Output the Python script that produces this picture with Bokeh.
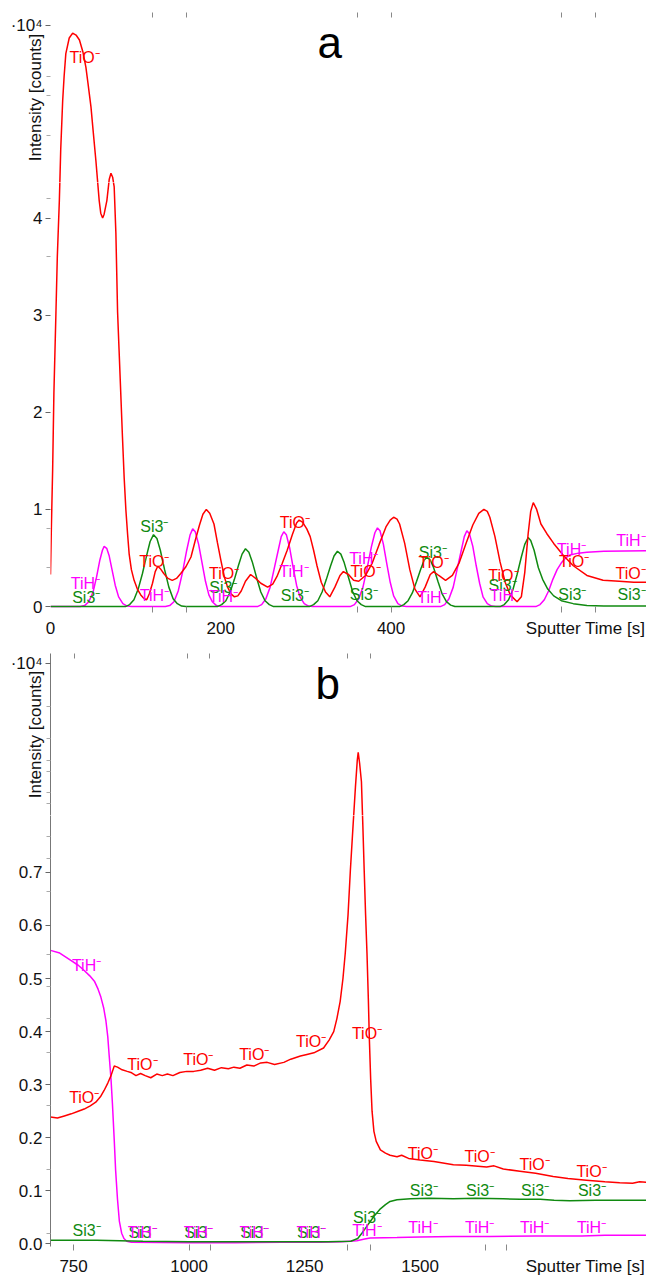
import math
from bokeh.plotting import figure
from bokeh.models import Label, FixedTicker, PrintfTickFormatter, ColumnDataSource, Range1d
from bokeh.layouts import column
from bokeh.core.properties import value
from bokeh.embed import file_html
from bokeh.resources import INLINE

FONT = "Liberation Sans"
RED, GREEN, MAGENTA = "#ff0000", "#108a10", "#ff00ff"
TIO, SI3, TIH = "TiO\u207b", "Si3\u207b", "TiH\u207b"
EXP = "\u00b710\u2074"
XLAB = "Sputter Time [s]"
YLAB = "Intensity [counts]"

# ---------------- panel a data: (sputter time [s], intensity [1e4 counts]) ----------------
a_tio = [(0, 0.33), (1, 0.8), (2.5, 1.4), (4, 2.2), (6.4, 3.03), (8, 3.6), (10.4, 4.18), (12, 4.7),
         (14.3, 5.2), (16, 5.45), (18, 5.68), (22, 5.84), (26, 5.89), (30, 5.87), (34, 5.82), (38, 5.7),
         (41.6, 5.54), (44, 5.38), (47.5, 5.14), (50, 4.9), (53.3, 4.59), (57.2, 4.18), (59, 4.05),
         (61.2, 4.0), (63, 4.04), (66.2, 4.18), (69, 4.4), (71, 4.46), (73, 4.42), (74.8, 4.32),
         (76.8, 3.84), (78.8, 3.03), (80.5, 2.65), (82.5, 2.2), (84.5, 1.75), (86.5, 1.33), (88.5, 1.0),
         (90.5, 0.75), (92.4, 0.54), (95, 0.38), (98.2, 0.27), (102, 0.18), (106, 0.12), (110, 0.08),
         (113, 0.07), (116, 0.13), (119.8, 0.24), (123, 0.36), (126, 0.415), (129, 0.39), (133, 0.34),
         (138, 0.29), (143, 0.27), (148, 0.29), (153, 0.34), (159, 0.41), (165, 0.51), (170, 0.68),
         (175, 0.84), (179, 0.95), (183, 1.0), (187, 0.96), (192, 0.85), (196, 0.66), (200, 0.48),
         (204, 0.31), (208, 0.2), (212, 0.13), (216, 0.1), (220, 0.11), (224, 0.16), (229, 0.26),
         (235, 0.33), (241, 0.29), (247, 0.24), (255, 0.2), (261, 0.23), (266, 0.31), (272, 0.44),
         (278, 0.58), (284, 0.74), (289, 0.86), (292, 0.89), (296, 0.87), (301, 0.8), (305, 0.72),
         (309, 0.58), (313, 0.42), (318, 0.25), (323, 0.15), (328, 0.1), (334, 0.2), (340, 0.32),
         (344, 0.36), (350, 0.33), (356, 0.27), (362, 0.26), (370, 0.32), (378, 0.45), (386, 0.64),
         (394, 0.82), (399, 0.89), (403, 0.92), (407, 0.9), (410, 0.85), (416, 0.65), (422, 0.38),
         (428, 0.18), (434, 0.1), (440, 0.2), (446, 0.33), (450, 0.36), (456, 0.32), (464, 0.27),
         (472, 0.32), (480, 0.45), (488, 0.65), (496, 0.84), (503, 0.96), (509, 1.0), (513, 0.98),
         (516, 0.92), (522, 0.72), (528, 0.46), (534, 0.25), (540, 0.12), (548, 0.05), (553, 0.1),
         (557, 0.35), (561, 0.75), (564, 0.98), (567, 1.07), (571, 1.0), (576, 0.85), (583, 0.75),
         (591, 0.65), (602, 0.53), (614, 0.42), (630, 0.32), (649, 0.27), (668, 0.26), (685, 0.25),
         (700, 0.25)]

a_tih = [(0, 0), (35, 0), (40, 0.01), (45, 0.05), (50, 0.15), (54, 0.3), (58, 0.48), (61, 0.58),
         (63, 0.62), (66, 0.6), (69, 0.52), (72, 0.39), (76, 0.22), (80, 0.1), (85, 0.03), (90, 0.005),
         (95, 0), (135, 0), (140, 0.01), (145, 0.05), (150, 0.16), (155, 0.35), (160, 0.58), (164, 0.74),
         (167, 0.8), (170, 0.77), (174, 0.64), (178, 0.45), (182, 0.26), (186, 0.12), (190, 0.05),
         (195, 0.01), (200, 0), (243, 0), (248, 0.02), (253, 0.08), (258, 0.2), (263, 0.4), (268, 0.6),
         (271, 0.72), (274, 0.77), (277, 0.74), (281, 0.6), (285, 0.4), (289, 0.22), (293, 0.1),
         (298, 0.03), (303, 0.005), (308, 0), (352, 0), (357, 0.02), (362, 0.08), (367, 0.2), (372, 0.4),
         (377, 0.62), (381, 0.76), (384, 0.81), (387, 0.78), (391, 0.64), (395, 0.44), (399, 0.25),
         (403, 0.11), (408, 0.03), (413, 0.005), (418, 0), (458, 0), (463, 0.02), (468, 0.08), (473, 0.2),
         (478, 0.4), (483, 0.6), (486, 0.72), (489, 0.78), (492, 0.75), (496, 0.62), (500, 0.42),
         (504, 0.24), (508, 0.1), (513, 0.03), (518, 0.005), (523, 0), (570, 0), (575, 0.02), (580, 0.07),
         (585, 0.16), (590, 0.28), (595, 0.38), (600, 0.45), (605, 0.5), (610, 0.53), (620, 0.55),
         (630, 0.56), (650, 0.57), (700, 0.575)]

a_si3 = [(0, 0), (88, 0), (93, 0.02), (98, 0.07), (103, 0.18), (108, 0.34), (113, 0.53), (117, 0.67),
         (121, 0.74), (125, 0.7), (129, 0.58), (134, 0.38), (139, 0.2), (144, 0.08), (149, 0.03),
         (154, 0.005), (159, 0), (196, 0), (201, 0.02), (206, 0.06), (211, 0.15), (216, 0.28), (221, 0.43),
         (225, 0.54), (229, 0.595), (233, 0.56), (237, 0.46), (242, 0.3), (247, 0.15), (252, 0.06),
         (257, 0.02), (262, 0), (304, 0), (309, 0.02), (314, 0.06), (319, 0.15), (324, 0.28), (329, 0.42),
         (333, 0.52), (337, 0.57), (341, 0.54), (345, 0.45), (350, 0.3), (355, 0.15), (360, 0.06),
         (365, 0.02), (370, 0), (410, 0), (415, 0.02), (420, 0.06), (425, 0.14), (430, 0.26), (435, 0.39),
         (439, 0.48), (442, 0.51), (446, 0.48), (450, 0.4), (455, 0.26), (460, 0.13), (465, 0.05),
         (470, 0.015), (475, 0), (528, 0), (533, 0.02), (538, 0.07), (543, 0.17), (548, 0.33), (553, 0.51),
         (557, 0.64), (561, 0.71), (564, 0.68), (568, 0.58), (573, 0.4), (578, 0.28), (584, 0.18),
         (591, 0.11), (600, 0.06), (614, 0.03), (630, 0.01), (650, 0.005), (700, 0.005)]

# curve labels, panel a: (time, intensity, text, colour)
a_labels = [(40, 5.64, TIO, RED), (41, 0.24, TIH, MAGENTA), (42, 0.095, SI3, GREEN),
            (122, 0.82, SI3, GREEN), (122, 0.46, TIO, RED), (122, 0.11, TIH, MAGENTA),
            (204, 0.34, TIO, RED), (203, 0.2, SI3, GREEN), (203, 0.1, TIH, MAGENTA),
            (287, 0.87, TIO, RED), (286, 0.36, TIH, MAGENTA), (287, 0.11, SI3, GREEN),
            (368, 0.49, TIH, MAGENTA), (370, 0.36, TIO, RED), (368, 0.12, SI3, GREEN),
            (449, 0.56, SI3, GREEN), (450, 0.45, TIO, RED), (448, 0.095, TIH, MAGENTA),
            (532, 0.32, TIO, RED), (531, 0.22, SI3, GREEN), (533, 0.11, TIH, MAGENTA),
            (612, 0.585, TIH, MAGENTA), (615, 0.46, TIO, RED), (613, 0.12, SI3, GREEN)]
# labels against the right edge (right-aligned so they stay whole)
a_edge_labels = [(699, 0.68, TIH, MAGENTA), (699, 0.34, TIO, RED), (699, 0.12, SI3, GREEN)]

a_xticks = [0, 200, 400]
a_xlab_at = 628.4           # where the axis title sits on the time axis
a_xmarks = [120, 160, 360, 400, 600, 640]
a_yticks = [0, 1, 2, 3, 4]
a_exp_at = 5.97
a_ymarks = [0.4, 0.8, 3.6, 4.2, 4.85, 5.25, 5.45]
a_split = 4.366             # upper strip holds the axis title

# ---------------- panel b data ----------------
b_tio = [(700, 0.239), (715, 0.237), (730, 0.241), (745, 0.245), (760, 0.25), (773, 0.254), (786, 0.26),
         (798, 0.267), (808, 0.277), (816, 0.289), (824, 0.303), (831, 0.317), (838, 0.335), (845, 0.333),
         (855, 0.328), (866, 0.325), (874, 0.323), (885, 0.317), (895, 0.321), (905, 0.317), (917, 0.313),
         (930, 0.32), (942, 0.317), (953, 0.32), (965, 0.317), (980, 0.323), (995, 0.325), (1010, 0.325),
         (1025, 0.327), (1040, 0.331), (1055, 0.327), (1070, 0.332), (1085, 0.33), (1097, 0.333),
         (1110, 0.331), (1125, 0.337), (1140, 0.335), (1155, 0.341), (1169, 0.342), (1185, 0.338),
         (1205, 0.342), (1220, 0.348), (1241, 0.354), (1255, 0.357), (1270, 0.36), (1291, 0.369),
         (1303, 0.384), (1313, 0.4), (1320, 0.425), (1327, 0.457), (1333, 0.5), (1338, 0.548),
         (1344, 0.62), (1349, 0.703), (1355, 0.79), (1360, 0.86), (1364, 0.91), (1366, 0.925),
         (1369, 0.905), (1373, 0.87), (1376, 0.79), (1379, 0.703), (1382, 0.62), (1385, 0.548),
         (1388, 0.46), (1390, 0.39), (1393, 0.31), (1396, 0.25), (1400, 0.212), (1405, 0.193),
         (1414, 0.177), (1425, 0.171), (1435, 0.167), (1450, 0.164), (1460, 0.167), (1475, 0.161),
         (1500, 0.158), (1530, 0.155), (1572, 0.149), (1600, 0.148), (1644, 0.145), (1660, 0.147),
         (1680, 0.141), (1716, 0.137), (1750, 0.133), (1788, 0.127), (1820, 0.123), (1860, 0.12),
         (1900, 0.117), (1932, 0.115), (1960, 0.114), (1975, 0.117), (1990, 0.116)]

b_tih = [(700, 0.553), (720, 0.548), (744, 0.534), (760, 0.525), (773, 0.515), (785, 0.505), (795, 0.495),
         (803, 0.48), (809, 0.465), (815, 0.445), (820, 0.42), (824, 0.39), (827, 0.355), (831, 0.31),
         (834, 0.265), (838, 0.195), (841, 0.138), (845, 0.084), (849, 0.043), (854, 0.02), (859, 0.01),
         (865, 0.005), (875, 0.003), (1000, 0.002), (1100, 0.002), (1200, 0.003), (1284, 0.003),
         (1330, 0.004), (1363, 0.006), (1380, 0.009), (1392, 0.011), (1450, 0.012), (1500, 0.013),
         (1572, 0.014), (1650, 0.014), (1750, 0.015), (1850, 0.015), (1900, 0.016), (1990, 0.016)]

b_si3 = [(700, 0.007), (800, 0.007), (850, 0.006), (900, 0.005), (1000, 0.004), (1100, 0.004),
         (1200, 0.004), (1300, 0.004), (1350, 0.005), (1365, 0.01), (1374, 0.02), (1383, 0.031),
         (1392, 0.042), (1403, 0.055), (1414, 0.066), (1425, 0.074), (1435, 0.08), (1450, 0.083),
         (1479, 0.085), (1520, 0.086), (1572, 0.085), (1620, 0.086), (1680, 0.085), (1716, 0.084),
         (1760, 0.084), (1790, 0.082), (1824, 0.081), (1880, 0.082), (1940, 0.082), (1990, 0.082)]

b_labels = [(778, 0.525, TIH, MAGENTA), (773, 0.276, TIO, RED), (778, 0.025, SI3, GREEN),
            (899, 0.338, TIO, RED), (1020, 0.348, TIO, RED), (1141, 0.357, TIO, RED), (1264, 0.382, TIO, RED),
            (899, 0.022, SI3, GREEN), (1020, 0.022, SI3, GREEN), (1141, 0.022, SI3, GREEN), (1264, 0.022, SI3, GREEN),
            (899, 0.022, TIH, MAGENTA), (1020, 0.022, TIH, MAGENTA), (1141, 0.022, TIH, MAGENTA), (1264, 0.022, TIH, MAGENTA),
            (1385, 0.397, TIO, RED), (1385, 0.05, SI3, GREEN), (1385, 0.025, TIH, MAGENTA),
            (1506, 0.171, TIO, RED), (1629, 0.164, TIO, RED), (1748, 0.149, TIO, RED), (1871, 0.137, TIO, RED),
            (1508, 0.101, SI3, GREEN), (1630, 0.101, SI3, GREEN), (1749, 0.101, SI3, GREEN), (1872, 0.101, SI3, GREEN),
            (1506, 0.031, TIH, MAGENTA), (1629, 0.031, TIH, MAGENTA), (1748, 0.031, TIH, MAGENTA), (1871, 0.031, TIH, MAGENTA)]
b_edge_labels = []

b_xticks = [750, 1000, 1250, 1500]
b_xlab_at = 1857.8
b_xmarks = [750, 1000, 1047, 1342, 1392, 1641, 1688]
b_topmarks = [751, 997, 1044, 1343, 1392]
b_yticks = [0.0, 0.1, 0.2, 0.3, 0.4, 0.5, 0.6, 0.7]
b_exp_at = 1.09
b_ymarks = [0.02, 0.14, 0.26, 0.36, 0.425, 0.485, 0.545, 0.664, 0.727, 0.767, 0.83, 0.85, 0.89, 0.91, 0.95, 1.01]
b_split = 0.8072


def unzip(pairs):
    return [p[0] for p in pairs], [p[1] for p in pairs]


def text_layer(p, labels, align, lo_v, hi_v):
    labels = [l for l in labels if lo_v <= l[1] < hi_v]
    if not labels:
        return
    src = ColumnDataSource(dict(x=[l[0] for l in labels], y=[l[1] for l in labels],
                                txt=[l[2] for l in labels], col=[l[3] for l in labels]))
    p.text(x="x", y="y", text="txt", text_color="col", source=src, text_align=align,
           text_baseline="middle", text_font=value(FONT), text_font_size=value("16px"))


def style_y(ya, ticks, marks, overrides, y_axis_line, fmt):
    ya.ticker = FixedTicker(ticks=ticks, minor_ticks=marks)
    if fmt:
        ya.formatter = PrintfTickFormatter(format=fmt)
    if overrides:
        ya.major_label_overrides = overrides
    ya.axis_line_color = "#777777" if y_axis_line else None
    ya.major_tick_line_color = "#666666"
    ya.minor_tick_line_color = "#aaaaaa"
    ya.major_tick_out = 5
    ya.major_tick_in = 0
    ya.minor_tick_out = 4
    ya.minor_tick_in = 0
    ya.major_label_standoff = 3
    ya.major_label_text_font = FONT
    ya.major_label_text_font_size = "17px"
    ya.major_label_text_color = "#111111"


def panel(xr, yr, split, top, frame_top_h, frame_bot_h, bottom, series, labels, edge_labels,
          xticks, xlab_at, xmarks, topmarks, yticks, ymarks, exp_at, panel_txt, panel_xy,
          y_axis_line, fmt=None):
    # upper strip (carries the axis title and the exponent)
    up = figure(width=646, height=top + frame_top_h, x_range=Range1d(*xr), y_range=Range1d(split, yr[1]),
                output_backend="svg", toolbar_location=None, x_axis_location="above",
                min_border_left=50, min_border_right=0, min_border_top=top, min_border_bottom=0)
    lo = figure(width=646, height=frame_bot_h + bottom, x_range=Range1d(*xr), y_range=Range1d(yr[0], split),
                output_backend="svg", toolbar_location=None, x_axis_location="below",
                min_border_left=50, min_border_right=0, min_border_top=0, min_border_bottom=bottom)
    for p, (v0, v1) in ((up, (split, 1e9)), (lo, (-1e9, split))):
        p.grid.visible = False
        p.outline_line_color = None
        p.background_fill_color = "white"
        p.border_fill_color = "white"
        for pairs, col in series:
            t, v = unzip(pairs)
            p.line(t, v, line_color=col, line_width=1.5)
        text_layer(p, labels, "center", v0, v1)
        text_layer(p, edge_labels, "right", v0, v1)

    # upper y axis: exponent as a tick label, axis title
    ya = up.yaxis[0]
    style_y(ya, [exp_at], ymarks, {exp_at: EXP}, y_axis_line, None)
    ya.axis_label = YLAB
    ya.axis_label_text_font = FONT
    ya.axis_label_text_font_size = "17px"
    ya.axis_label_text_font_style = "normal"
    ya.axis_label_text_color = "#111111"
    ya.axis_label_standoff = -37

    # top axis: just the small marks
    ta = up.xaxis[0]
    ta.ticker = FixedTicker(ticks=[], minor_ticks=topmarks)
    ta.axis_line_color = None
    ta.minor_tick_in = 5
    ta.minor_tick_out = 0
    ta.minor_tick_line_color = "#888888"
    ta.major_label_text_font_size = "0px"
    ta.major_label_standoff = 0

    up.add_layout(Label(x=panel_xy[0], y=panel_xy[1], text=panel_txt, text_align="center",
                        text_baseline="middle", text_font=FONT, text_font_size="44px", text_color="#000000"))

    # lower y axis
    style_y(lo.yaxis[0], yticks, ymarks, None, y_axis_line, fmt)

    # bottom axis: tick labels + axis title on the same line
    xa = lo.xaxis[0]
    xa.ticker = FixedTicker(ticks=xticks + [xlab_at], minor_ticks=xmarks)
    xa.major_label_overrides = {xlab_at: XLAB}
    xa.axis_line_color = None
    xa.major_tick_line_color = None
    xa.minor_tick_line_color = "#888888"
    xa.major_tick_out = 0
    xa.major_tick_in = 0
    xa.minor_tick_out = 4
    xa.minor_tick_in = 2
    xa.major_label_standoff = 6
    xa.major_label_text_font = FONT
    xa.major_label_text_font_size = "17px"
    xa.major_label_text_color = "#111111"
    return [up, lo]


pa = panel((0, 700), (-0.02, 6.1), a_split, 12, 170, 430, 28,
           [(a_tih, MAGENTA), (a_si3, GREEN), (a_tio, RED)], a_labels, a_edge_labels,
           a_xticks, a_xlab_at, a_xmarks, a_xmarks, a_yticks, a_ymarks, a_exp_at,
           "a", (328, 5.79), False)

pb = panel((700, 1990), (-0.005, 1.109), b_split, 13, 162, 436, 27,
           [(b_tih, MAGENTA), (b_si3, GREEN), (b_tio, RED)], b_labels, b_edge_labels,
           b_xticks, b_xlab_at, b_xmarks, b_topmarks, b_yticks, b_ymarks, b_exp_at,
           "b", (1300, 1.053), True, fmt="%.1f")

layout = column(*(pa + pb), spacing=0)
open("out.html", "w").write(file_html(layout, INLINE))
